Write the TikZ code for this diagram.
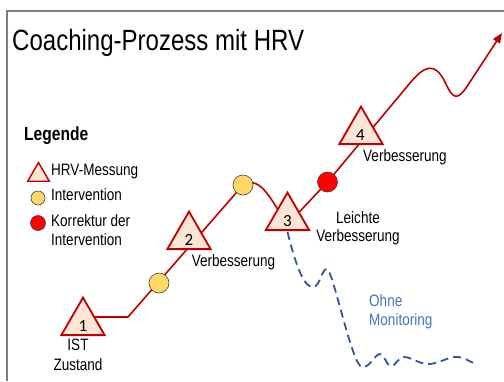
\documentclass[tikz,border=0pt]{standalone}
\usepackage{fontspec}
\setmainfont{Liberation Sans}[FakeStretch=0.82]
\newfontfamily\digitfont{Carlito}
\usetikzlibrary{shapes.geometric,backgrounds,arrows.meta}

\definecolor{hrvred}{HTML}{C00000}
\definecolor{peach}{HTML}{FBE5D6}
\definecolor{sun}{HTML}{FFD966}
\definecolor{alarm}{HTML}{FF0000}
\definecolor{drift}{HTML}{2F5597}
\definecolor{driftlabel}{HTML}{4472C4}
\definecolor{framegray}{HTML}{7F7F7F}

\begin{document}
\begin{tikzpicture}[x=1pt,y=-1pt,
  txt/.style={inner sep=0pt, font=\fontsize{16.5}{19}\selectfont},
  measure/.style={regular polygon, regular polygon sides=3, minimum size=50pt,
    inner sep=0pt, draw=hrvred, fill=peach, line width=1.8pt},
  smallmeasure/.style={measure, minimum size=25pt, line width=1.4pt},
  digit/.style={inner sep=0pt, anchor=base, font=\digitfont\fontsize{17}{20}\selectfont},
  action/.style={circle, inner sep=0pt, minimum size=20pt, draw=black!75,
    line width=0.6pt, fill=sun},
  fix/.style={action, fill=alarm},
  path line/.style={draw=hrvred, line width=1.6pt, line join=round},
  drift line/.style={draw=drift, line width=1.8pt, dash pattern=on 8pt off 5pt}]
\useasboundingbox (0,0) rectangle (504,381);

% frame along the top and left edge
\draw[framegray, line width=1.2pt] (7,381) -- (7,11) -- (504,11);

% title
\node[inner sep=0pt, anchor=base west, font=\fontsize{29.3}{34}\selectfont]
  (title) at (12,50) {Coaching-Prozess mit HRV};

% legend
\node[inner sep=0pt, anchor=base west, font=\bfseries\fontsize{19}{22}\selectfont]
  (legtitle) at (24,140.5) {Legende};
\node[smallmeasure] (legtri) at (38.5,175) {};
\node[txt, anchor=base west] (legtritext) at (51,175) {HRV-Messung};
\node[action, minimum size=14pt] (legsun) at (38,198) {};
\node[txt, anchor=base west] (legsuntext) at (51,200.5) {Intervention};
\node[fix, minimum size=15pt] (legfix) at (38,223) {};
\node[txt, anchor=west, align=left] (legfixtext) at (51,229.6) {Korrektur der\\Intervention};

% measurements along the way
\node[measure] (t1) at (83,322.6) {};
\node[measure] (t2) at (189,236.6) {};
\node[measure] (t3) at (287.5,217.6) {};
\node[measure] (t4) at (361,131.6) {};
\node[digit] (n1) at (83,331.7) {1};
\node[digit] (n2) at (189,245.3) {2};
\node[digit] (n3) at (287.5,226) {3};
\node[digit] (n4) at (360.5,140.7) {4};

% interventions
\node[action] (c1) at (159,283) {};
\node[action] (c2) at (243,185) {};
\node[fix] (r1) at (327.5,182) {};

\coordinate (k1) at (128,317);
\coordinate (dip3) at (288,224);
\coordinate (goal) at (502,33);

% labels
\node[txt, align=center, font=\fontsize{16.5}{20}\selectfont] (lab1) at (78,355) {IST\\Zustand};
\node[txt, anchor=base] (lab2) at (233.5,266.7) {Verbesserung};
\node[txt, align=center, font=\fontsize{16.5}{18.4}\selectfont] (lab3) at (358,228.4) {Leichte\\Verbesserung};
\node[txt, anchor=base west] (lab4) at (363,161.7) {Verbesserung};
\node[txt, anchor=west, align=left, text=driftlabel] (labdrift) at (369,312) {Ohne\\Monitoring};

\begin{pgfonlayer}{background}
  % course with monitoring
  \draw[path line, -{Triangle[length=10pt, width=8pt]}]
    (t1.center |- k1) -- (k1) -- (c2.center)
    .. controls (262,174) and (272,204) .. (dip3)
    -- (r1.center) -- (410,83)
    .. controls (425,65) and (435,62) .. (445,82)
    .. controls (452,97) and (456,102) .. (466,88)
    -- (goal);
  % course without monitoring
  \draw[drift line] (t3.center |- 0,232)
    .. controls (295,262) and (303,287) .. (313,287)
    .. controls (320,287) and (322,268) .. (327,269)
    .. controls (333,270) and (352,366) .. (362,367)
    .. controls (370,368) and (374,355) .. (380,354)
    .. controls (385,354) and (386,366) .. (391,366)
    .. controls (396,366) and (398,357) .. (404,357)
    .. controls (412,357) and (420,365) .. (430,364)
    .. controls (440,363) and (450,356) .. (458,357)
    .. controls (466,358) and (470,362) .. (476,364);
\end{pgfonlayer}
\end{tikzpicture}
\end{document}
